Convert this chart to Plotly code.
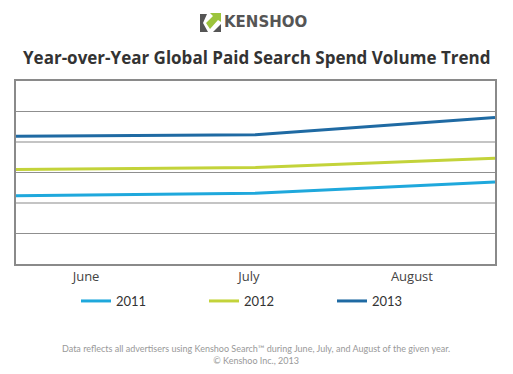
import plotly.graph_objects as go

months = ["June", "July", "August"]
series_names = ["2011", "2012", "2013"]
values_2011 = [2.24, 2.32, 2.69]
values_2012 = [3.10, 3.16, 3.47]
values_2013 = [4.19, 4.24, 4.80]
colors = ["#1fa8dc", "#c3d33a", "#1f6aa3"]
title_text = "Year-over-Year Global Paid Search Spend Volume Trend"
logo_text = "KENSHOO"
footer_line1 = "Data reflects all advertisers using Kenshoo Search\u2122 during June, July, and August of the given year."
footer_line2 = "\u00a9 Kenshoo Inc., 2013"

W, H = 513, 374
L, R, T, B = 16, 18, 81, 110


def px(x):
    return (x - L) / (W - L - R)


def py(y):
    return (H - B - y) / (H - T - B)


fig = go.Figure()
for name, vals, col in zip(series_names, [values_2011, values_2012, values_2013], colors):
    fig.add_trace(go.Scatter(x=[0, 1, 2], y=vals, mode="lines", name=name,
                             line=dict(color=col, width=3)))

# invisible trace on the label axis
fig.add_trace(go.Scatter(x=[0, 1, 2], y=[0, 0, 0], xaxis="x2", mode="lines",
                         line=dict(width=0), showlegend=False, hoverinfo="skip"))

fig.update_layout(
    width=W, height=H,
    margin=dict(l=L, r=R, t=T, b=B, autoexpand=False),
    paper_bgcolor="white", plot_bgcolor="white",
    font=dict(family="Open Sans, sans-serif", color="#444"),
    showlegend=True,
    legend=dict(orientation="h", x=px(76), xanchor="left", y=py(286), yanchor="top",
                font=dict(size=13, color="#333", family="Lato, sans-serif"),
                entrywidth=83, entrywidthmode="pixels", itemwidth=30,
                traceorder="normal", tracegroupgap=0),
    xaxis=dict(range=[0, 2], showticklabels=False, showgrid=False, zeroline=False,
               showline=True, linecolor="#8a8a8a", linewidth=2, mirror=True, ticks=""),
    xaxis2=dict(range=[-0.43, 2.51], overlaying="x", side="bottom", tickmode="array",
                tickvals=[0, 1, 2], ticktext=months, showgrid=False, zeroline=False,
                showline=False, tickfont=dict(size=13, color="#444"), ticks="",
                ticklabelstandoff=3, anchor="y", automargin=False),
    yaxis=dict(range=[0, 6], tickmode="array", tickvals=[1, 3, 5], showticklabels=False,
               showgrid=True, gridcolor="#8f8f8f", gridwidth=1, zeroline=False,
               showline=True, linecolor="#8a8a8a", linewidth=2, mirror=True, ticks="",
               minor=dict(tickvals=[2, 4], showgrid=True, gridcolor="#c4c4c4", gridwidth=2)),
)

# title
fig.add_annotation(text="<b>" + title_text + "</b>", xref="paper", yref="paper",
                   x=px(256), y=py(57), xanchor="center", yanchor="middle",
                   showarrow=False, font=dict(size=17, color="#333", family="Open Sans, sans-serif"))

# logo text
fig.add_annotation(text="<b>" + logo_text + "</b>", xref="paper", yref="paper",
                   x=px(222), y=py(22), xanchor="left", yanchor="middle",
                   showarrow=False, font=dict(size=15, color="#555", family="DejaVu Sans, sans-serif"))

# logo icon (gray chevron + gray corner + green arrow)
def poly(points):
    return "M " + " L ".join("{},{}".format(px(a), py(b)) for a, b in points) + " Z"

fig.add_shape(type="path", path=poly([(200, 14), (207, 14), (203, 23), (208, 32), (200, 32)]),
              xref="paper", yref="paper", fillcolor="#555555", line=dict(width=0))
fig.add_shape(type="path", path=poly([(213, 32), (221, 24), (221, 32)]),
              xref="paper", yref="paper", fillcolor="#555555", line=dict(width=0))
fig.add_shape(type="path", path=poly([(206, 23), (213, 16), (210, 13), (221, 13), (221, 22),
                                      (218, 20), (210, 29)]),
              xref="paper", yref="paper", fillcolor="#9cc43c", line=dict(width=0))

# footer
fig.add_annotation(text=footer_line1 + "<br>" + footer_line2, xref="paper", yref="paper",
                   x=px(256), y=py(354), xanchor="center", yanchor="middle",
                   showarrow=False, align="center",
                   font=dict(size=9, color="#999", family="Lato, sans-serif"))

fig.write_html("out.html", config={"displayModeBar": False},
               post_script="document.body.style.margin='0';")
